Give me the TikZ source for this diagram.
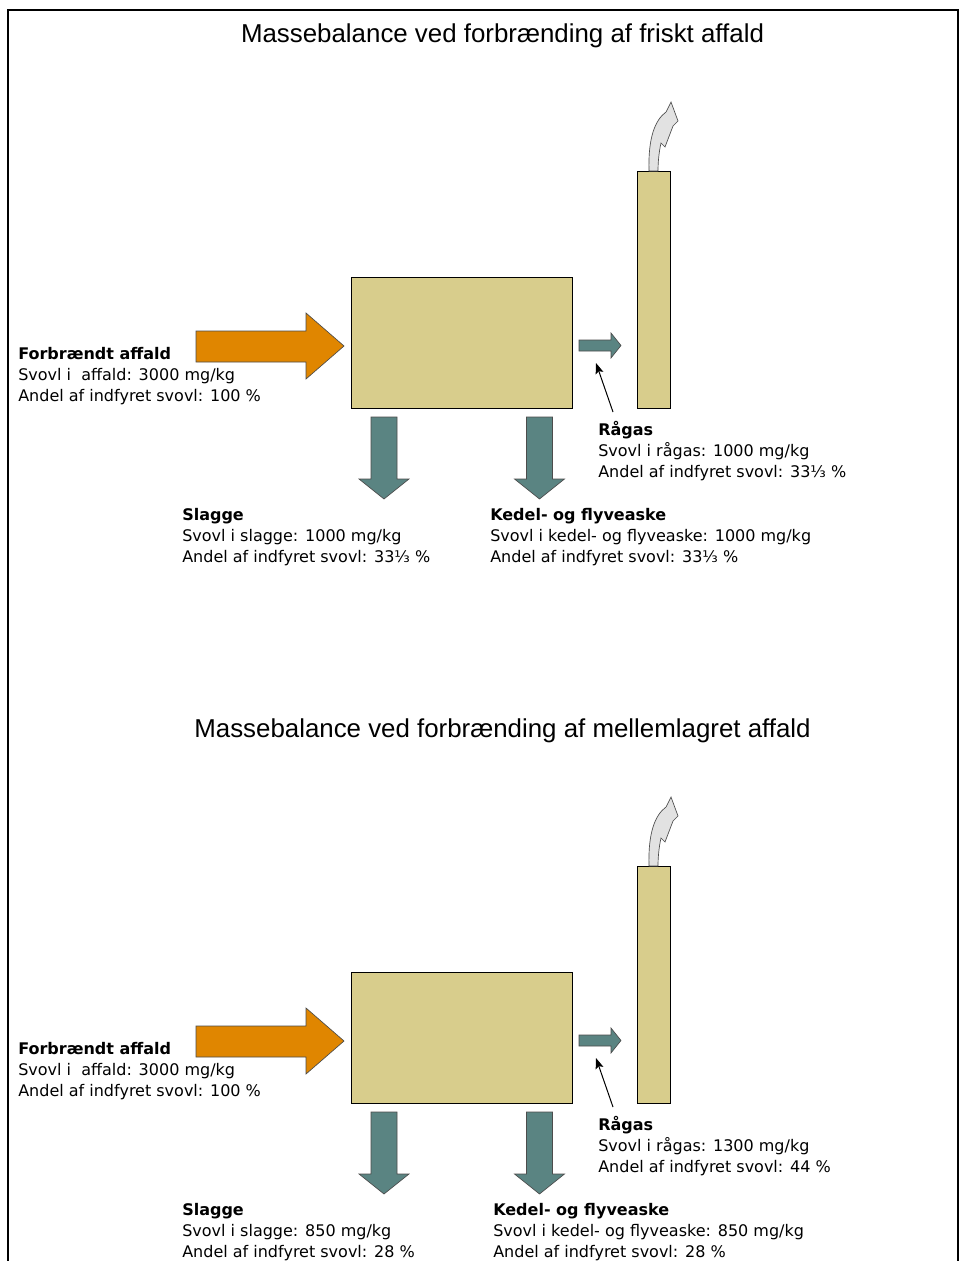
\documentclass[tikz,border=0pt]{standalone}
\usepackage{fontspec}
\setmainfont{DejaVu Sans}
\newfontfamily\overskrift{Liberation Sans}
\usetikzlibrary{arrows.meta}
\definecolor{ovnfarve}{RGB}{216,205,140}
\definecolor{affaldfarve}{RGB}{224,134,0}
\definecolor{askefarve}{RGB}{90,132,130}
\definecolor{roegfarve}{RGB}{226,226,226}
\def\indpil{(196,331) -- ++(110,0) -- ++(0,-18) -- ++(38,33) -- ++(-38,33) -- ++(0,-17) -- ++(-110,0) -- cycle}
\def\nedpil{(-13,0) -- (13,0) -- (13,62) -- (25,62) -- (0,82) -- (-25,62) -- (-13,62) -- cycle}
\def\gaspil{(579,340) -- (611,340) -- (611,333) -- (621,345.5) -- (611,358) -- (611,351) -- (579,351) -- cycle}
\def\roeg{(649,171) .. controls (648,138) and (655,120) .. (666,112) -- (671,102) -- (678,121) -- (673,126) -- (665,147) -- (661,143) .. controls (659,152) and (658,162) .. (658,171) -- cycle}
\newcommand\massebalance[9]{%
\begin{scope}[shift={(0,#1)}, name prefix=s#1-]
\node[titel] (titel) at (502.5,42) {#2};
\draw[affaldpil] \indpil;
\draw[ovn] (351,277) rectangle (572,408);
\draw[ovn] (637,171) rectangle (670,408);
\draw[roegpil] \roeg;
\draw[askepil] \gaspil;
\draw[askepil, shift={(384,417)}] \nedpil;
\draw[askepil, shift={(539.5,417)}] \nedpil;
\node[tekst] (affald) at (18,347) {\textbf{Forbrændt affald}\\Svovl i\ \ affald: 3000 mg/kg\\Andel af indfyret svovl: 100 \%};
\node[tekst] (ragas) at (598,421.5) {\textbf{Rågas}\\Svovl i rågas: #7 mg/kg\\Andel af indfyret svovl: #8 \%};
\coordinate (ragasfod) at (613,412);
\coordinate (ragasspids) at (596,363);
\draw[henvisning] (ragasfod) -- (ragasspids);
\node[tekst] (slagge) at (182,508) {\textbf{Slagge}\\Svovl i slagge: #3 mg/kg\\Andel af indfyret svovl: #4 \%};
\node[tekst] (kedel) at (#9,508) {\textbf{Kedel- og flyveaske}\\Svovl i kedel- og flyveaske: #5 mg/kg\\Andel af indfyret svovl: #6 \%};
\end{scope}}

\begin{document}
\begin{tikzpicture}[x=0.75pt, y=-0.75pt,
  ovn/.style={draw=black, fill=ovnfarve, line width=0.75pt},
  affaldpil/.style={draw=black!70, fill=affaldfarve, line width=0.5pt},
  askepil/.style={draw=black!70, fill=askefarve, line width=0.5pt},
  roegpil/.style={draw=black!70, fill=roegfarve, line width=0.5pt},
  tekst/.style={anchor=north west, inner sep=0pt, align=left, font=\fontsize{12}{15.75}\selectfont},
  titel/.style={anchor=base, inner sep=0pt, font=\overskrift\fontsize{19.4}{24}\selectfont},
  henvisning/.style={-{Stealth[length=8pt, width=6pt, inset=1.5pt]}, line width=0.75pt}]
\useasboundingbox[fill=white] (0,0) rectangle (962,1261);
\draw[line width=1.5pt] (8,1261) -- (8,10) -- (958,10) -- (958,1261);
\massebalance{0}{Massebalance ved forbrænding af friskt affald}{1000}{33⅓}{1000}{33⅓}{1000}{33⅓}{490}
\massebalance{695}{Massebalance ved forbrænding af mellemlagret affald}{850}{28}{850}{28}{1300}{44}{493}
\end{tikzpicture}
\end{document}
